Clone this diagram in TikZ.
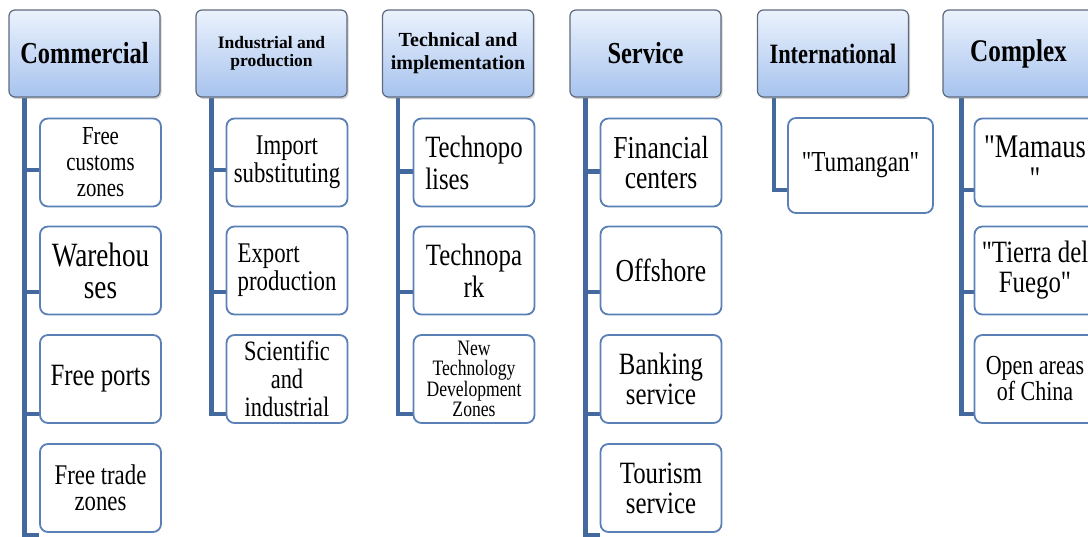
\documentclass[tikz,border=0pt]{standalone}
\usepackage{fontspec}
\setmainfont{Liberation Serif}[Ligatures=TeXOff,FakeStretch=0.8]
\newfontfamily\flatrm{Liberation Serif}[Ligatures=TeXOff]
\usetikzlibrary{shadows,backgrounds}
\definecolor{headtop}{HTML}{EBF2FD}
\definecolor{headbot}{HTML}{A7C3EE}
\definecolor{headline}{HTML}{5F6B7D}
\definecolor{itemline}{HTML}{5A80B6}
\definecolor{linkblue}{HTML}{44699F}
\tikzset{
        head/.style={rectangle, rounded corners=6pt, draw=headline, line width=1.2pt,
          top color=headtop, bottom color=headbot, minimum width=151pt, minimum height=87pt,
          align=center, inner sep=2pt,
          drop shadow={shadow xshift=1.5pt, shadow yshift=-2pt, opacity=0.35}},
        item/.style={rectangle, rounded corners=8pt, draw=itemline, line width=1.8pt,
          fill=white, minimum width=121pt, minimum height=88pt, align=center,
          inner xsep=3pt, inner ysep=0pt},
        link/.style={draw=linkblue, line width=4.5pt}
    }
\newcommand{\fsz}[2]{\fontsize{#1}{#2}\selectfont}

\begin{document}
\begin{tikzpicture}[x=1pt,y=-1pt]

\useasboundingbox (0,0) rectangle (1088,536);

% headers
\draw (84.5,53.5) node(COM)[head,font=\bfseries\fsz{30.5}{30}]{Commercial};
\draw (271.5,53.5) node(IND)[head,font=\flatrm\bfseries\fsz{17.5}{17.5}]{Industrial and\\production};
\draw (458,53.5) node(TEC)[head,font=\flatrm\bfseries\fsz{20}{23}]{Technical and\\implementation};
\draw (645.5,53.5) node(SER)[head,font=\bfseries\fsz{30.5}{30}]{Service};
\draw (833,53.5) node(INT)[head,font=\bfseries\fsz{28}{30}]{International};
\draw (1018.5,53.5) node(CPX)[head,font=\bfseries\fsz{31.5}{30}]{Complex};

% commercial
\draw (100.5,162.5) node(COM1)[item,font=\fsz{26}{26}]{Free\\customs\\zones};
\draw (100.5,270.5) node(COM2)[item,font=\fsz{34}{32}]{Warehou\\ses};
\draw (100.5,379) node(COM3)[item,font=\fsz{31}{30}]{Free ports};
\draw (100.5,488) node(COM4)[item,font=\fsz{28.5}{26}]{Free trade\\zones};

% industrial
\draw (287,162.5) node(IND1)[item,font=\fsz{28.5}{28}]{Import\\substituting};
\draw (287,270.5) node(IND2)[item,align=left,font=\fsz{28.5}{28}]{Export\\production};
\draw (287,379) node(IND3)[item,font=\fsz{28}{28}]{Scientific\\and\\industrial};

% technical
\draw (474,162.5) node(TEC1)[item,align=left,font=\fsz{31}{32}]{Technopo\\lises};
\draw (474,270.5) node(TEC2)[item,font=\fsz{31}{32}]{Technopa\\rk};
\draw (474,379) node(TEC3)[item,font=\fsz{22}{20.5}]{New\\Technology\\Development\\Zones};

% service
\draw (661,162.5) node(SER1)[item,font=\fsz{32}{30}]{Financial\\centers};
\draw (661,270.5) node(SER2)[item,font=\fsz{32}{30}]{Offshore};
\draw (661,379) node(SER3)[item,font=\fsz{31}{30}]{Banking\\service};
\draw (661,488) node(SER4)[item,font=\fsz{31}{30}]{Tourism\\service};

% international
\draw (860.5,165.5) node(INT1)[item,minimum width=145pt,minimum height=95pt,font=\fsz{29}{27}]{"Tumangan"};

% complex
\draw (1035,162.5) node(CPX1)[item,font=\fsz{33}{32}]{"Mamaus\\"};
\draw (1035,270.5) node(CPX2)[item,font=\fsz{31}{30}]{"Tierra del\\Fuego"};
\draw (1035,379) node(CPX3)[item,font=\fsz{27.5}{26}]{Open areas\\of China};

\begin{scope}[on background layer]
\fill[white] (0,0) rectangle (1088,536);
\draw[link] ([xshift=16pt]COM.south west) |- ([yshift=-7.5pt]COM1.west);
\draw[link] ([xshift=16pt]COM.south west) |- ([yshift=-21.5pt]COM2.west);
\draw[link] ([xshift=16pt]COM.south west) |- ([yshift=-35pt]COM3.west);
\draw[link] ([xshift=16pt]COM.south west) |- ([yshift=-47pt]COM4.west);

\draw[link] ([xshift=16pt]IND.south west) |- ([yshift=-7.5pt]IND1.west);
\draw[link] ([xshift=16pt]IND.south west) |- ([yshift=-21.5pt]IND2.west);
\draw[link] ([xshift=16pt]IND.south west) |- ([yshift=-35pt]IND3.west);

\draw[link] ([xshift=16pt]TEC.south west) |- ([yshift=-9pt]TEC1.west);
\draw[link] ([xshift=16pt]TEC.south west) |- ([yshift=-21.5pt]TEC2.west);
\draw[link] ([xshift=16pt]TEC.south west) |- ([yshift=-35pt]TEC3.west);

\draw[link] ([xshift=16pt]SER.south west) |- ([yshift=-9pt]SER1.west);
\draw[link] ([xshift=16pt]SER.south west) |- ([yshift=-21.5pt]SER2.west);
\draw[link] ([xshift=16pt]SER.south west) |- ([yshift=-35pt]SER3.west);
\draw[link] ([xshift=16pt]SER.south west) |- ([yshift=-47pt]SER4.west);

\draw[link] ([xshift=17pt]INT.south west) |- ([yshift=-24.5pt]INT1.west);

\draw[link] ([xshift=19pt]CPX.south west) |- ([yshift=-27.5pt]CPX1.west);
\draw[link] ([xshift=19pt]CPX.south west) |- ([yshift=-21.5pt]CPX2.west);
\draw[link] ([xshift=19pt]CPX.south west) |- ([yshift=-35pt]CPX3.west);
\end{scope}

\end{tikzpicture}
\end{document}
